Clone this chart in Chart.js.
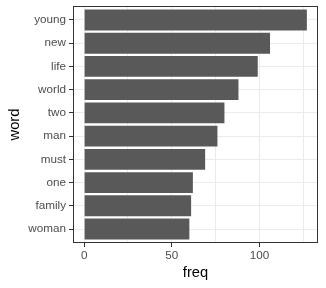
<!DOCTYPE html>
<html>
<head>
<meta charset="utf-8">
<script src="https://cdn.jsdelivr.net/npm/chart.js@4"></script>
<style>
	html, body { margin: 0; padding: 0; background: #fff; }
	#wrap { width: 326px; height: 288px; }
</style>
</head>
<body>
<div id="wrap"><canvas id="wordChart" width="326" height="288"></canvas></div>
<script>
// top ten words, top to bottom
const words = ["young", "new", "life", "world", "two", "man", "must", "one", "family", "woman"];
const freq = [127, 106, 99, 88, 80, 76, 69, 62, 61, 60];
const xTicks = [0, 25, 50, 75, 100, 125];
const xLabels = [0, 50, 100];

// panel border like theme_bw
const panelBorder = {
	id: "panelBorder",
	afterDraw(chart) {
		const a = chart.chartArea;
		const ctx = chart.ctx;
		ctx.save();
		ctx.strokeStyle = "#333333";
		ctx.lineWidth = 1;
		ctx.strokeRect(a.left + 0.5, a.top + 0.5, a.right - a.left - 1, a.bottom - a.top - 1);
		ctx.restore();
	}
};

const ctx = document.getElementById("wordChart").getContext("2d");
new Chart(ctx, {
	type: "bar",
	data: {
		datasets: [
			{
				label: "freq",
				data: words.map((w, i) => ({ x: freq[i], y: i })),
				backgroundColor: "#595959",
				borderWidth: 0,
				categoryPercentage: 1,
				barPercentage: 0.9,
			},
		],
	},
	options: {
		indexAxis: "y",
		responsive: false,
		animation: false,
		layout: { padding: { top: 6, right: 8, left: 0, bottom: 0 } },
		plugins: {
			legend: { display: false },
			tooltip: { enabled: false },
		},
		scales: {
			x: {
				type: "linear",
				offset: false,
				min: -6.35,
				max: 133.35,
				afterBuildTicks: (scale) => {
					scale.ticks = xTicks.map((v) => ({ value: v }));
				},
				afterFit: (scale) => {
					scale.height = 45;
				},
				border: { display: false },
				grid: {
					offset: false,
					color: "#EBEBEB",
					lineWidth: 1,
					tickLength: 4,
					tickColor: (c) => (xLabels.includes(c.tick && c.tick.value) ? "#333333" : "rgba(0,0,0,0)"),
				},
				ticks: {
					autoSkip: false,
					maxRotation: 0,
					padding: 2,
					color: "#4D4D4D",
					font: { family: "Liberation Sans", size: 11.7 },
					callback: (v) => (xLabels.includes(v) ? String(v) : ""),
				},
				title: {
					display: true,
					text: "freq",
					color: "#000000",
					font: { family: "Liberation Sans", size: 14.7 },
					padding: { top: 0, bottom: 6 },
				},
			},
			y: {
				type: "linear",
				offset: false,
				reverse: true,
				min: -0.6,
				max: 9.6,
				afterBuildTicks: (scale) => {
					scale.ticks = words.map((w, i) => ({ value: i }));
				},
				afterFit: (scale) => {
					scale.width = 73;
					scale.paddingTop = 0;
					scale.paddingBottom = 0;
				},
				border: { display: false },
				grid: {
					offset: false,
					color: "#EBEBEB",
					lineWidth: 1,
					tickLength: 4,
					tickColor: "#333333",
				},
				ticks: {
					autoSkip: false,
					padding: 3,
					color: "#4D4D4D",
					font: { family: "Liberation Sans", size: 11.7 },
					callback: (v) => words[v],
				},
				title: {
					display: true,
					text: "word",
					color: "#000000",
					font: { family: "Liberation Sans", size: 14.7 },
					padding: { top: 6, bottom: 0 },
				},
			},
		},
	},
	plugins: [panelBorder],
});
</script>
</body>
</html>
